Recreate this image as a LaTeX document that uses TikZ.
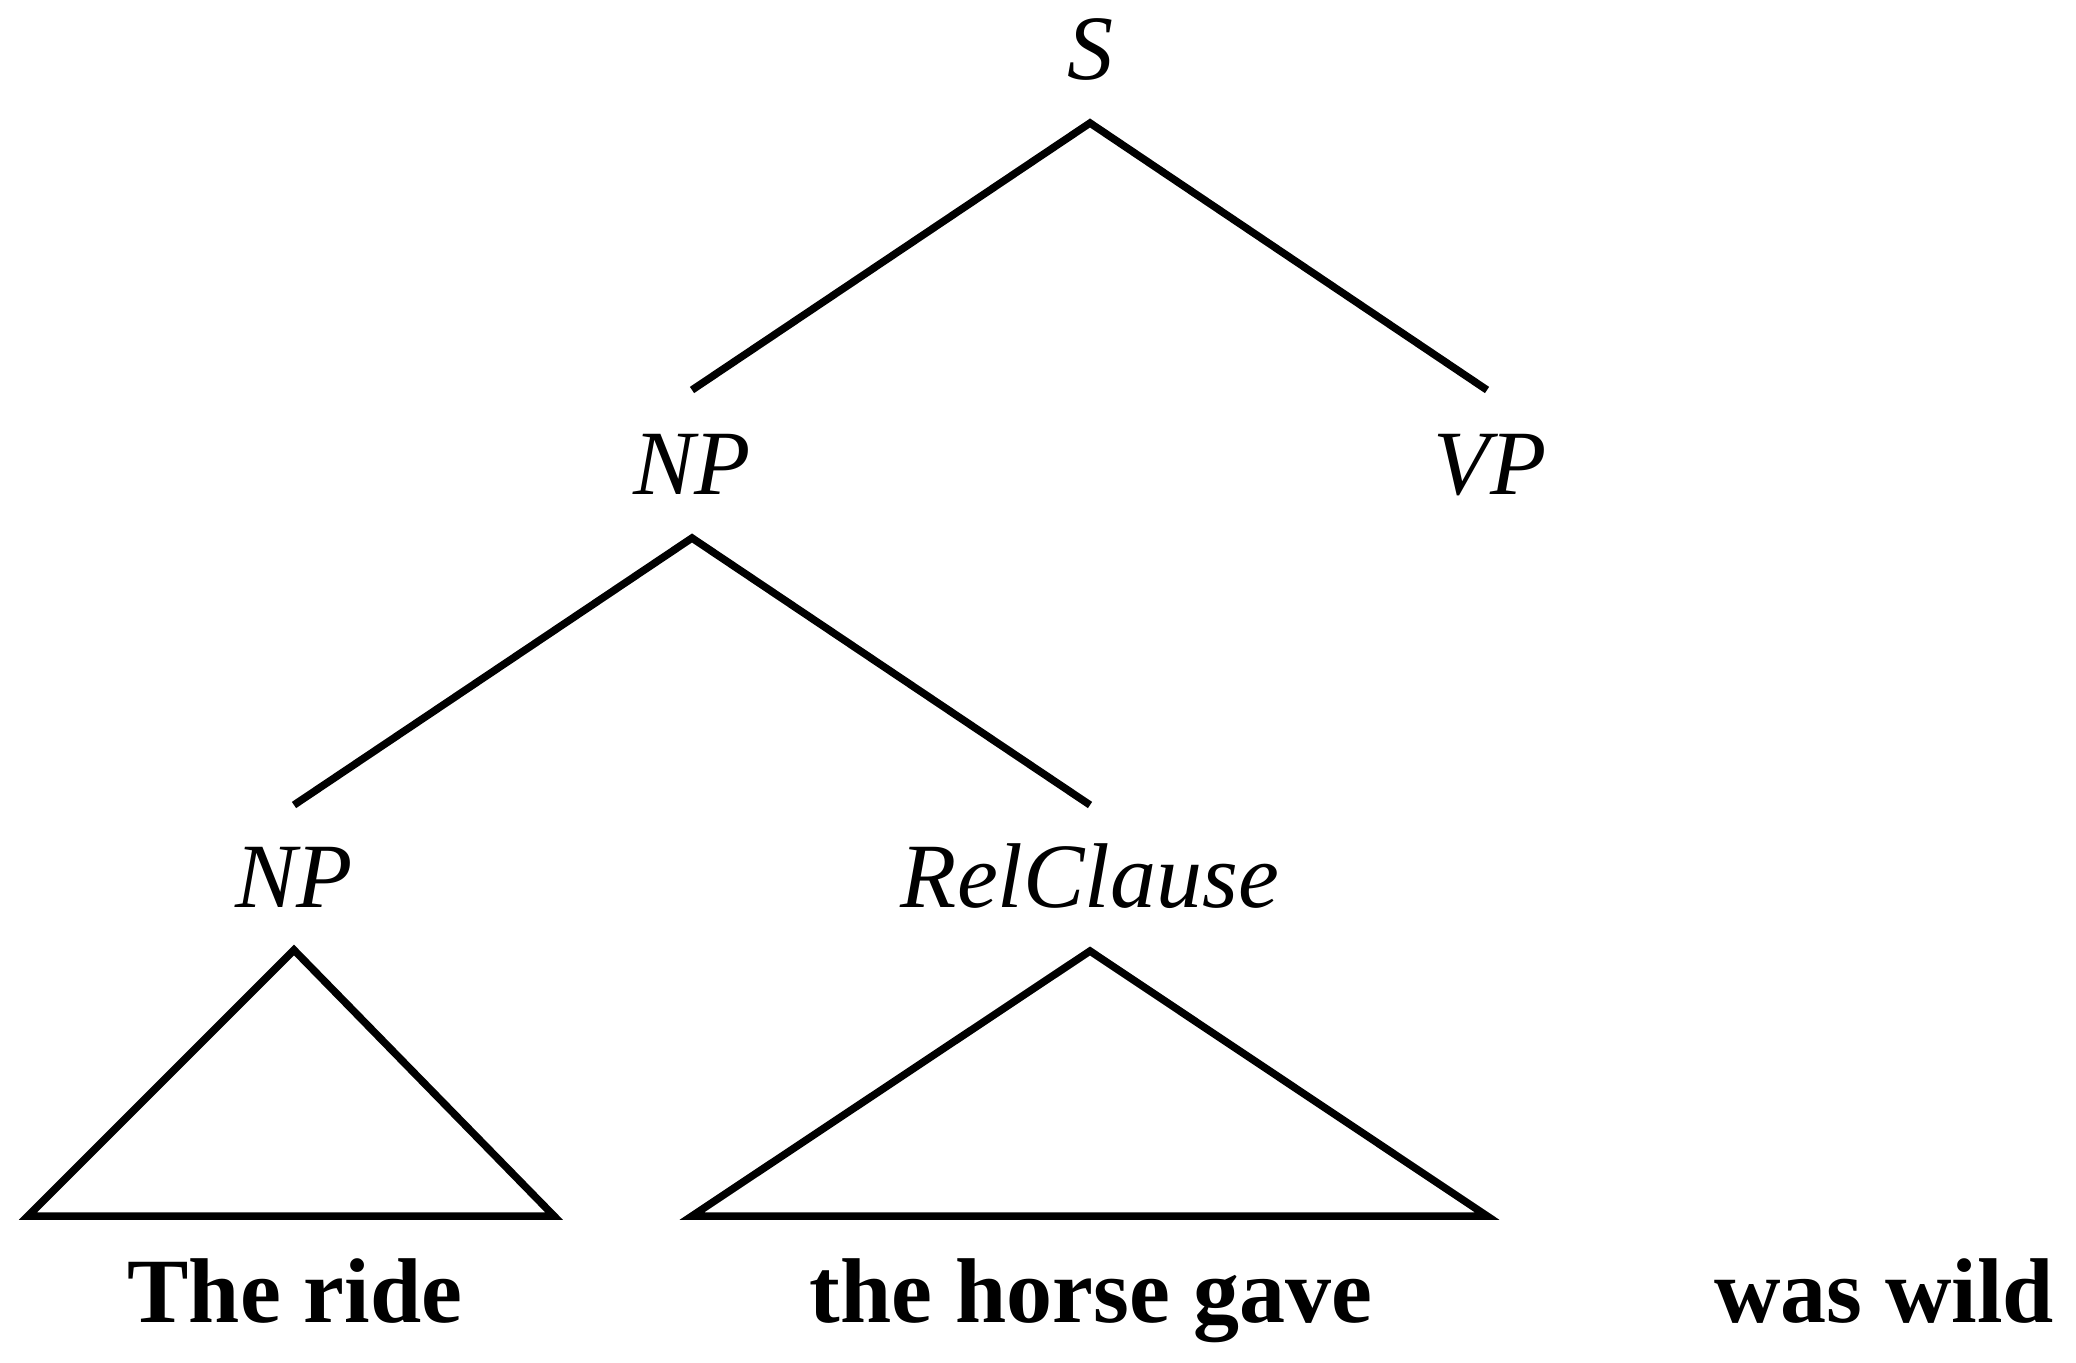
\documentclass[tikz,border=0pt]{standalone}
\usepackage{fontspec}
\setmainfont{Liberation Serif}
\begin{document}
\begin{tikzpicture}[x=1pt,y=-1pt,
  cat/.style={font=\fontsize{92}{100}\selectfont\itshape, anchor=base, inner sep=0pt},
  word/.style={font=\fontsize{92}{100}\selectfont\bfseries, anchor=base, inner sep=0pt},
  branch/.style={line width=7.5pt, line join=miter, line cap=butt}]
\useasboundingbox (0,0) rectangle (2076,1362);
% category labels
\node[cat] (S) at (1090,80) {S};
\node[cat] (NP) at (692,494) {NP};
\node[cat] (VP) at (1490,494) {VP};
\node[cat] (NPa) at (294,907) {NP};
\node[cat] (Rel) at (1090,907) {RelClause};
% words
\node[word] (w1) at (295,1322) {The ride};
\node[word] (w2) at (1091,1322) {the horse gave};
\node[word] (w3) at (1884,1322) {was wild};
% branch points
\coordinate (Sa) at (1090,123);
\coordinate (NPt) at (692,390);
\coordinate (VPt) at (1487,390);
\coordinate (NPb) at (692,538);
\coordinate (NPat) at (294,805);
\coordinate (Relt) at (1090,805);
\coordinate (T1a) at (294,950);
\coordinate (T1l) at (28,1216);
\coordinate (T1r) at (554,1216);
\coordinate (T2a) at (1090,951);
\coordinate (T2l) at (692,1216);
\coordinate (T2r) at (1487,1216);
\draw[branch] (NPt) -- (Sa) -- (VPt);
\draw[branch] (NPat) -- (NPb) -- (Relt);
\draw[branch] (T1a) -- (T1l) -- (T1r) -- cycle;
\draw[branch] (T2a) -- (T2l) -- (T2r) -- cycle;
\end{tikzpicture}
\end{document}
